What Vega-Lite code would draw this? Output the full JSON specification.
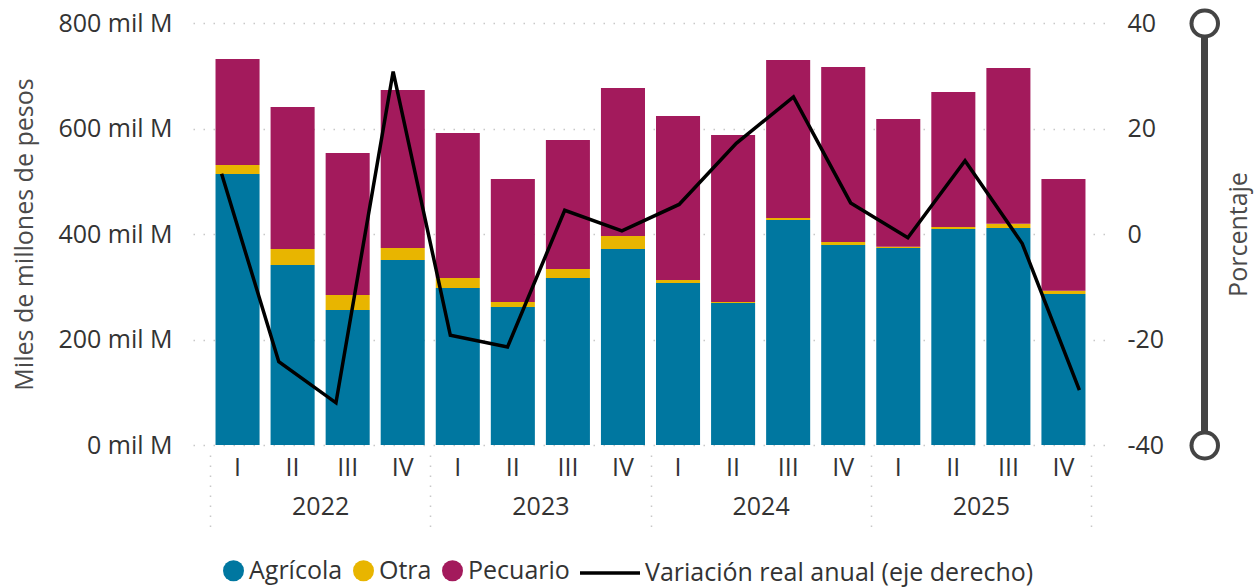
{
  "$schema": "https://vega.github.io/schema/vega-lite/v6.json",
  "width": 915,
  "height": 422,
  "autosize": {"type": "none"},
  "padding": {"left": 193, "top": 23, "right": 148, "bottom": 142},
  "background": "white",
  "config": {
    "view": {"stroke": null},
    "font": "Open Sans",
    "axis": {"labelFont": "Open Sans", "titleFont": "Open Sans", "labelColor": "#333333", "titleColor": "#4a4a4a", "labelFontSize": 25, "titleFontSize": 25, "titleFontWeight": "normal"},
    "legend": {"labelFont": "Open Sans", "labelFontSize": 25, "labelColor": "#333333", "direction": "horizontal", "title": null, "padding": 0, "labelLimit": 600}
  },
  "datasets": {
    "bars": [
      {"q": "2022-I", "serie": "Agrícola", "v": 513.7}, {"q": "2022-I", "serie": "Otra", "v": 17.1}, {"q": "2022-I", "serie": "Pecuario", "v": 201.0},
      {"q": "2022-II", "serie": "Agrícola", "v": 341.2}, {"q": "2022-II", "serie": "Otra", "v": 30.4}, {"q": "2022-II", "serie": "Pecuario", "v": 269.2},
      {"q": "2022-III", "serie": "Agrícola", "v": 255.9}, {"q": "2022-III", "serie": "Otra", "v": 28.5}, {"q": "2022-III", "serie": "Pecuario", "v": 269.2},
      {"q": "2022-IV", "serie": "Agrícola", "v": 350.7}, {"q": "2022-IV", "serie": "Otra", "v": 22.8}, {"q": "2022-IV", "serie": "Pecuario", "v": 299.5},
      {"q": "2023-I", "serie": "Agrícola", "v": 297.6}, {"q": "2023-I", "serie": "Otra", "v": 19.0}, {"q": "2023-I", "serie": "Pecuario", "v": 274.9},
      {"q": "2023-II", "serie": "Agrícola", "v": 261.6}, {"q": "2023-II", "serie": "Otra", "v": 9.5}, {"q": "2023-II", "serie": "Pecuario", "v": 233.2},
      {"q": "2023-III", "serie": "Agrícola", "v": 316.6}, {"q": "2023-III", "serie": "Otra", "v": 17.0}, {"q": "2023-III", "serie": "Pecuario", "v": 244.6},
      {"q": "2023-IV", "serie": "Agrícola", "v": 371.6}, {"q": "2023-IV", "serie": "Otra", "v": 24.6}, {"q": "2023-IV", "serie": "Pecuario", "v": 280.6},
      {"q": "2024-I", "serie": "Agrícola", "v": 307.1}, {"q": "2024-I", "serie": "Otra", "v": 5.7}, {"q": "2024-I", "serie": "Pecuario", "v": 310.9},
      {"q": "2024-II", "serie": "Agrícola", "v": 269.2}, {"q": "2024-II", "serie": "Otra", "v": 1.9}, {"q": "2024-II", "serie": "Pecuario", "v": 316.6},
      {"q": "2024-III", "serie": "Agrícola", "v": 426.5}, {"q": "2024-III", "serie": "Otra", "v": 3.8}, {"q": "2024-III", "serie": "Pecuario", "v": 299.6},
      {"q": "2024-IV", "serie": "Agrícola", "v": 379.1}, {"q": "2024-IV", "serie": "Otra", "v": 5.7}, {"q": "2024-IV", "serie": "Pecuario", "v": 331.8},
      {"q": "2025-I", "serie": "Agrícola", "v": 373.5}, {"q": "2025-I", "serie": "Otra", "v": 2.4}, {"q": "2025-I", "serie": "Pecuario", "v": 242.1},
      {"q": "2025-II", "serie": "Agrícola", "v": 409.5}, {"q": "2025-II", "serie": "Otra", "v": 3.8}, {"q": "2025-II", "serie": "Pecuario", "v": 255.9},
      {"q": "2025-III", "serie": "Agrícola", "v": 411.4}, {"q": "2025-III", "serie": "Otra", "v": 8.2}, {"q": "2025-III", "serie": "Pecuario", "v": 295.1},
      {"q": "2025-IV", "serie": "Agrícola", "v": 286.3}, {"q": "2025-IV", "serie": "Otra", "v": 6.2}, {"q": "2025-IV", "serie": "Pecuario", "v": 211.8}
    ],
    "linea": [
      {"q": "2022-I", "serie": "Variación real anual (eje derecho)", "var": 11.4},
      {"q": "2022-II", "serie": "Variación real anual (eje derecho)", "var": -24.2},
      {"q": "2022-III", "serie": "Variación real anual (eje derecho)", "var": -32.0},
      {"q": "2022-IV", "serie": "Variación real anual (eje derecho)", "var": 30.8},
      {"q": "2023-I", "serie": "Variación real anual (eje derecho)", "var": -19.2},
      {"q": "2023-II", "serie": "Variación real anual (eje derecho)", "var": -21.4},
      {"q": "2023-III", "serie": "Variación real anual (eje derecho)", "var": 4.5},
      {"q": "2023-IV", "serie": "Variación real anual (eje derecho)", "var": 0.6},
      {"q": "2024-I", "serie": "Variación real anual (eje derecho)", "var": 5.6},
      {"q": "2024-II", "serie": "Variación real anual (eje derecho)", "var": 17.2},
      {"q": "2024-III", "serie": "Variación real anual (eje derecho)", "var": 26.0},
      {"q": "2024-IV", "serie": "Variación real anual (eje derecho)", "var": 5.9},
      {"q": "2025-I", "serie": "Variación real anual (eje derecho)", "var": -0.7},
      {"q": "2025-II", "serie": "Variación real anual (eje derecho)", "var": 13.9},
      {"q": "2025-III", "serie": "Variación real anual (eje derecho)", "var": -1.8},
      {"q": "2025-IV", "serie": "Variación real anual (eje derecho)", "var": -29.6}
    ],
    "anios": [{"year": "2022"}, {"year": "2023"}, {"year": "2024"}, {"year": "2025"}],
    "extremos": [{"p": -40}, {"p": 40}]
  },
  "layer": [
    {
      "data": {"name": "bars"},
      "mark": {"type": "bar"},
      "encoding": {
        "x": {"field": "q", "type": "ordinal", "sort": null,
          "scale": {"paddingInner": 0.2, "paddingOuter": 0.409},
          "axis": {"title": null, "ticks": false, "domain": false, "labelAngle": 0, "labelPadding": 10, "labelExpr": "split(datum.label, '-')[1]"}},
        "y": {"field": "v", "type": "quantitative", "stack": "zero",
          "scale": {"domain": [0, 800], "nice": false},
          "axis": {"title": "Miles de millones de pesos", "values": [0, 200, 400, 600, 800], "labelExpr": "datum.value + ' mil M'", "labelPadding": 21, "titlePadding": 20, "domain": false, "ticks": false, "grid": true, "gridColor": "#c8c8c8", "gridDash": [1.5, 8.5], "gridWidth": 1.5}},
        "color": {"field": "serie", "type": "nominal",
          "scale": {"domain": ["Agrícola", "Otra", "Pecuario"], "range": ["#0077A0", "#E8B500", "#A31A5C"]},
          "legend": {"orient": "none", "legendX": 28, "legendY": 535, "symbolType": "circle", "symbolSize": 441, "labelOffset": 3, "columnPadding": 8}},
        "order": {"field": "serie", "sort": "ascending"}
      }
    },
    {
      "data": {"name": "linea"},
      "mark": {"type": "line", "color": "black", "strokeWidth": 3.5},
      "encoding": {
        "x": {"field": "q", "type": "ordinal", "sort": null,
          "scale": {"paddingInner": 0.2, "paddingOuter": 0.409}, "axis": null},
        "y": {"field": "var", "type": "quantitative",
          "scale": {"domain": [-40, 40], "nice": false},
          "axis": {"orient": "right", "title": null, "values": [-40, -20, 0, 20, 40], "labelExpr": "'' + datum.value", "labelPadding": 19, "domain": false, "ticks": false, "grid": false}},
        "stroke": {"field": "serie", "type": "nominal",
          "scale": {"range": ["black"]},
          "legend": {"orient": "none", "legendX": 385, "legendY": 518, "symbolType": "stroke", "symbolSize": 3600, "symbolStrokeWidth": 3.5, "labelOffset": 3}}
      }
    },
    {
      "data": {"name": "anios"},
      "mark": {"type": "rule", "opacity": 0},
      "encoding": {
        "x": {"field": "year", "type": "nominal",
          "scale": {"paddingInner": 0, "paddingOuter": 0.0773},
          "axis": {"title": null, "orient": "bottom", "offset": 10, "domain": false, "tickBand": "extent", "tickSize": 72, "tickColor": "#c8c8c8", "tickDash": [1.5, 8.5], "tickWidth": 1.5, "labelPadding": -33, "labelAngle": 0}}
      }
    },
    {
      "data": {"name": "extremos"},
      "mark": {"type": "point", "opacity": 0},
      "encoding": {
        "y": {"field": "p", "type": "quantitative",
          "scale": {"domain": [-40, 40], "nice": false},
          "axis": {"orient": "right", "offset": 96, "title": null, "labels": false, "grid": false, "domain": true, "domainColor": "#444444", "domainWidth": 7, "values": [-40, 40], "ticks": true, "tickSize": 0.5, "tickWidth": 30, "tickCap": "round", "tickColor": "#444444"}}
      }
    },
    {
      "data": {"name": "extremos"},
      "mark": {"type": "point", "opacity": 0},
      "encoding": {
        "y": {"field": "p", "type": "quantitative",
          "scale": {"domain": [-40, 40], "nice": false},
          "axis": {"orient": "right", "offset": 96, "title": "Porcentaje", "titleAngle": 270, "titlePadding": 36, "labels": false, "grid": false, "domain": false, "values": [-40, 40], "ticks": true, "tickSize": 0.5, "tickWidth": 22, "tickCap": "round", "tickColor": "white"}}
      }
    }
  ],
  "resolve": {"scale": {"x": "independent", "y": "independent", "color": "independent", "stroke": "independent"}, "axis": {"x": "independent", "y": "independent"}, "legend": {"color": "independent", "stroke": "independent"}}
}
